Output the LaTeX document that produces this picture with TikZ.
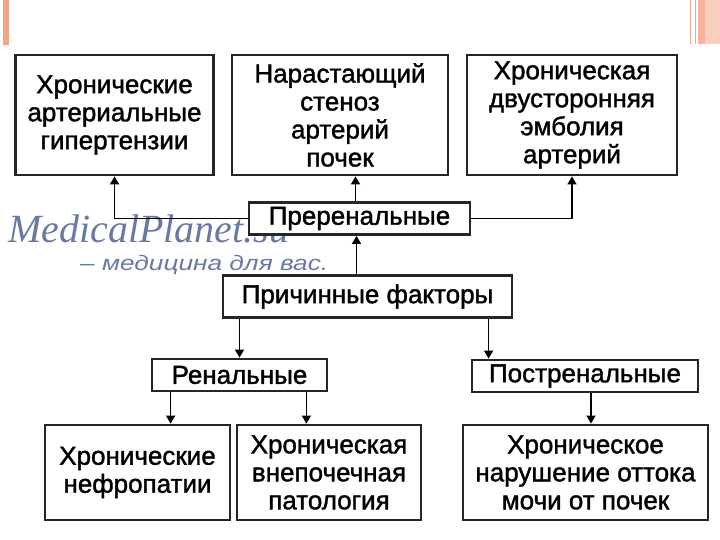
\documentclass[tikz,border=0pt]{standalone}
\usepackage{fontspec}
\setmainfont{Liberation Sans}
\newfontfamily\boxfont{Liberation Sans}[FakeBold=1.4]
\newfontfamily\wmserif{Liberation Serif}
\usetikzlibrary{arrows.meta,positioning}
\usepackage{xcolor}
\definecolor{wmblue}{RGB}{105,120,165}
\definecolor{deco}{RGB}{245,165,135}

\begin{document}
\begin{tikzpicture}[x=1pt,y=-1pt,>={Triangle[length=8pt,width=9pt]},
  box/.style={draw=black!85, line width=2.8pt, fill=white, align=center, inner sep=2pt,
    font=\boxfont\fontsize{26}{28}\selectfont},
  group/.style={box, minimum height=32pt}]
  \useasboundingbox (0,0) rectangle (720,540);

  % Slide decoration
  \fill[deco] (3,0) rectangle (9,45);
  \draw[deco, line width=1pt] (690,0) -- (690,44);
  \draw[deco, line width=1pt] (695,0) -- (695,44);
  \fill[deco!55] (698,0) rectangle (720,44);
  \fill[deco!85] (698,0) rectangle (705,44);

  % Watermark (behind the boxes)
  \node (wm) at (8,243) [anchor=base west, inner sep=0pt, text=wmblue,
    font=\wmserif\itshape\fontsize{40}{40}\selectfont] {MedicalPlanet.su};
  \node (wmsub) at (80,270) [anchor=base west, inner sep=0pt, text=wmblue,
    font=\itshape\fontsize{21}{21}\selectfont] {\scalebox{1.25}[1]{– медицина для вас.}};

  % Upper row
  \node (hyp)  at (114.5,115) [box, minimum width=198pt, minimum height=120pt] {Хронические\\артериальные\\гипертензии};
  \node (sten) at (340,115)   [box, minimum width=216pt, minimum height=120pt] {Нарастающий\\стеноз\\артерий\\почек};
  \node (emb)  at (572,115)   [box, minimum width=210pt, minimum height=120pt] {Хроническая\\двусторонняя\\эмболия\\артерий};

  % Middle
  \node (pre)   at (359.5,218.5) [group, minimum width=221pt] {Преренальные};
  \node (cause) at (367.5,296.5) [box, minimum width=289pt, minimum height=42pt] {Причинные факторы};
  \node (ren)   at (239.5,375)   [group, minimum width=175pt] {Ренальные};
  \node (post)  at (585,376)     [group, minimum width=226pt] {Постренальные};

  % Lower row
  \node (neph)  at (137.5,472.5) [box, minimum width=185pt, minimum height=95pt] {Хронические\\нефропатии};
  \node (extra) at (329,472.5)   [box, minimum width=184pt, minimum height=95pt] {Хроническая\\внепочечная\\патология};
  \node (obstr) at (585.5,472.5) [box, minimum width=245pt, minimum height=95pt] {Хроническое\\нарушение оттока\\мочи от почек};

  % Connections
  \draw[->, line width=1.5pt] (pre.west) -| (hyp.south);
  \draw[->, line width=1.5pt] (pre.east) -| (emb.south);
  \draw[->, line width=1.5pt] ([xshift=-4pt]pre.north) -- ([xshift=-4pt]pre.north |- sten.south);
  \draw[->, line width=1.5pt] ([xshift=-3pt]pre.south |- cause.north) -- ([xshift=-3pt]pre.south);
  \draw[->, line width=1.5pt] (cause.south -| ren.north) -- (ren.north);
  \draw[->, line width=1.5pt] ([xshift=18pt]post.north west |- cause.south) -- ([xshift=18pt]post.north west);
  \draw[->, line width=1.5pt] ([xshift=20pt]ren.south west) -- ([xshift=20pt]ren.south west |- neph.north);
  \draw[->, line width=1.5pt] ([xshift=-22pt]ren.south east) -- ([xshift=-22pt]ren.south east |- extra.north);
  \draw[->, line width=1.5pt] ([xshift=6pt]post.south) -- ([xshift=6pt]post.south |- obstr.north);
\end{tikzpicture}
\end{document}
